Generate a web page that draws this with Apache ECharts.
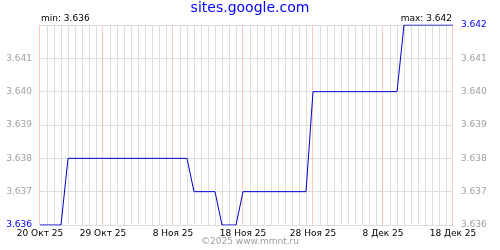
<!DOCTYPE html>
<html>
<head>
<meta charset="utf-8">
<script src="https://cdn.jsdelivr.net/npm/echarts@6/dist/echarts.min.js"></script>
<style>html,body{margin:0;padding:0;background:#fff}#c{width:500px;height:250px}</style>
</head>
<body>
<div id="c"></div>
<script>
const dates = [
 '20 Окт 25','21 Окт 25','22 Окт 25','23 Окт 25','24 Окт 25','25 Окт 25','26 Окт 25','27 Окт 25','28 Окт 25','29 Окт 25',
 '30 Окт 25','31 Окт 25','1 Ноя 25','2 Ноя 25','3 Ноя 25','4 Ноя 25','5 Ноя 25','6 Ноя 25','7 Ноя 25','8 Ноя 25',
 '9 Ноя 25','10 Ноя 25','11 Ноя 25','12 Ноя 25','13 Ноя 25','14 Ноя 25','15 Ноя 25','16 Ноя 25','17 Ноя 25','18 Ноя 25',
 '19 Ноя 25','20 Ноя 25','21 Ноя 25','22 Ноя 25','23 Ноя 25','24 Ноя 25','25 Ноя 25','26 Ноя 25','27 Ноя 25','28 Ноя 25',
 '29 Ноя 25','30 Ноя 25','1 Дек 25','2 Дек 25','3 Дек 25','4 Дек 25','5 Дек 25','6 Дек 25','7 Дек 25','8 Дек 25',
 '9 Дек 25','10 Дек 25','11 Дек 25','12 Дек 25','13 Дек 25','14 Дек 25','15 Дек 25','16 Дек 25','17 Дек 25','18 Дек 25'
];
const values = [
 3.636,3.636,3.636,3.636,3.638,3.638,3.638,3.638,3.638,3.638,
 3.638,3.638,3.638,3.638,3.638,3.638,3.638,3.638,3.638,3.638,
 3.638,3.638,3.637,3.637,3.637,3.637,3.636,3.636,3.636,3.637,
 3.637,3.637,3.637,3.637,3.637,3.637,3.637,3.637,3.637,3.640,
 3.640,3.640,3.640,3.640,3.640,3.640,3.640,3.640,3.640,3.640,
 3.640,3.640,3.642,3.642,3.642,3.642,3.642,3.642,3.642,3.642
];
const tickLabels = ['20 Окт 25','29 Окт 25','8 Ноя 25','18 Ноя 25','28 Ноя 25','8 Дек 25','18 Дек 25'];
const yMin = 3.636, yMax = 3.642, yStep = 0.001;
const titleText = 'sites.google.com';
const copyright = '©2025 www.mmnt.ru';

const vMin = Math.min(...values), vMax = Math.max(...values);
const FONT = 'DejaVu Sans';
const isTick = (i) => tickLabels.indexOf(dates[i]) >= 0;

const chart = echarts.init(document.getElementById('c'), null, {renderer: 'canvas'});
chart.setOption({
  animation: false,
  title: [
    {text: titleText, left: 'center', top: 1, padding: 0,
     textStyle: {color: '#0000ff', fontFamily: FONT, fontSize: 14, fontWeight: 'normal'}},
    {text: 'min: ' + vMin.toFixed(3), left: 41, top: 14, padding: 0,
     textStyle: {color: '#000', fontFamily: FONT, fontSize: 9, fontWeight: 'normal'}},
    {text: 'max: ' + vMax.toFixed(3), right: 48, top: 14, padding: 0,
     textStyle: {color: '#000', fontFamily: FONT, fontSize: 9, fontWeight: 'normal'}},
    {text: copyright, left: 'center', top: 237, padding: 0,
     textStyle: {color: '#a0a0a0', fontFamily: FONT, fontSize: 9, fontWeight: 'normal'}}
  ],
  grid: {left: 40, right: 47, top: 25, bottom: 25},
  xAxis: [
    {type: 'category', data: dates, boundaryGap: false,
     axisLine: {show: false}, axisTick: {show: false},
     axisLabel: {show: true, interval: (i) => isTick(i), color: '#000', fontFamily: FONT, fontSize: 9, margin: 4},
     splitLine: {show: true, interval: (i) => !isTick(i), lineStyle: {color: '#dddddd', width: 1}}}
  ],
  yAxis: [
    {type: 'value', min: yMin, max: yMax, interval: yStep, position: 'left',
     axisLine: {show: false}, axisTick: {show: false},
     splitLine: {show: true, lineStyle: {color: '#dddddd', width: 1}},
     axisLabel: {margin: 8, fontFamily: FONT, fontSize: 9,
       formatter: (v) => Math.abs(v - yMax) < 1e-9 ? '' : (Math.abs(v - vMin) < 1e-9 ? '{b|' + v.toFixed(3) + '}' : v.toFixed(3)),
       color: '#a0a0a0', rich: {b: {color: '#0000ff', fontFamily: FONT, fontSize: 9}}}},
    {type: 'value', min: yMin, max: yMax, interval: yStep, position: 'right',
     axisLine: {show: false}, axisTick: {show: false}, splitLine: {show: false},
     axisLabel: {margin: 8, fontFamily: FONT, fontSize: 9,
       formatter: (v) => Math.abs(v - vMax) < 1e-9 ? '{b|' + v.toFixed(3) + '}' : v.toFixed(3),
       color: '#a0a0a0', rich: {b: {color: '#0000ff', fontFamily: FONT, fontSize: 9}}}}
  ],
  series: [
    {type: 'custom', silent: true, z: 3, xAxisIndex: 0, yAxisIndex: 0,
     data: tickLabels.map(d => [d]),
     encode: {x: 0},
     renderItem: (params, api) => {
       const idx = api.value(0);
       const top = api.coord([idx, yMax]);
       const bot = api.coord([idx, yMin]);
       const x = Math.round(top[0]) - 0.5;
       return {type: 'line', shape: {x1: x, y1: top[1], x2: x, y2: bot[1]},
               style: {stroke: '#ffc4c4', lineWidth: 1}};
     }},
    {type: 'line', data: values, xAxisIndex: 0, yAxisIndex: 0, showSymbol: false,
     lineStyle: {color: '#0000cc', width: 1}, z: 5}
  ]
});
</script>
</body>
</html>
